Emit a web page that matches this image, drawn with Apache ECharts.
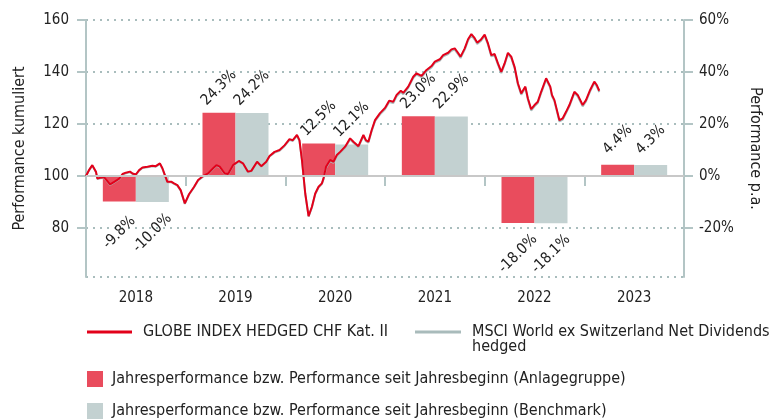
<!DOCTYPE html>
<html>
<head>
<meta charset="utf-8">
<script src="https://cdn.jsdelivr.net/npm/echarts@6/dist/echarts.min.js"></script>
<style>
  html, body { margin: 0; padding: 0; background: #fff; }
  #chart { width: 778px; height: 419px; }
</style>
</head>
<body>
<div id="chart"></div>
<script>
// Jahre (Kategorien der Balken)
const years = ['2018', '2019', '2020', '2021', '2022', '2023']

// Jahresperformance in %
const fundPerf = [-9.8, 24.3, 12.5, 23.0, -18.0, 4.4]
const benchPerf = [-10.0, 24.2, 12.1, 22.9, -18.1, 4.3]

// Performance kumuliert: Monate seit Jan 2018
const months = [
  0, 0.4, 0.76, 1.2, 1.36, 1.77, 2.2, 2.9, 3.4, 4.0,
  4.4, 4.8, 5.3, 5.6, 6.0, 6.4, 6.8, 7.4, 8.0, 8.4,
  8.9, 9.2, 9.5, 9.8, 10.3, 10.6, 11.0, 11.4, 11.9, 12.4,
  13.0, 13.5, 14.1, 14.7, 15.3, 15.7, 16.1, 16.7, 17.1, 17.7,
  18.4, 18.9, 19.5, 19.9, 20.6, 21.1, 21.7, 22.1, 22.7, 23.3,
  23.9, 24.5, 24.9, 25.4, 25.7, 26.0, 26.4, 26.8, 27.2, 27.6,
  28.0, 28.4, 28.6, 28.9, 29.4, 29.8, 30.2, 30.6, 31.2, 31.8,
  32.2, 32.8, 33.0, 33.4, 33.7, 34.0, 34.4, 34.8, 35.4, 36.0,
  36.5, 37.0, 37.4, 37.9, 38.2, 38.8, 39.4, 39.8, 40.4, 41.0,
  41.6, 42.0, 42.6, 43.0, 43.6, 44.0, 44.4, 44.7, 45.1, 45.6,
  46.0, 46.4, 46.8, 47.1, 47.5, 48.0, 48.4, 48.8, 49.2, 49.6,
  50.0, 50.4, 50.8, 51.2, 51.6, 52.0, 52.4, 52.9, 53.2, 53.6,
  54.0, 54.4, 54.8, 55.4, 55.9, 56.1, 56.4, 57.0, 57.4, 57.8,
  58.2, 58.8, 59.2, 59.8, 60.2, 60.7, 61.2, 61.5, 61.8
]

const globeIndex = [
  100.0, 102.5, 104.2, 101.7, 99.1, 99.4, 99.5, 96.8, 97.8, 99.0,
  100.8, 101.3, 101.7, 101.0, 100.6, 102.3, 103.3, 103.6, 104.0, 103.8,
  104.9, 103.0, 100.4, 97.8, 97.8, 97.2, 96.5, 94.6, 89.5, 93.0,
  95.8, 98.5, 100.0, 101.0, 103.0, 104.2, 103.6, 101.0, 100.8, 104.2,
  105.8, 104.9, 101.7, 102.0, 105.5, 103.8, 105.5, 107.7, 109.3, 110.0,
  111.8, 114.2, 113.8, 115.8, 113.8, 106.2, 93.3, 84.6, 88.2, 93.3,
  95.9, 97.2, 99.1, 103.6, 106.2, 105.5, 108.1, 109.3, 111.3, 114.5,
  113.2, 111.5, 111.9, 115.8, 113.8, 113.2, 117.7, 121.5, 124.2, 126.2,
  129.0, 128.6, 131.2, 132.8, 132.0, 134.4, 138.2, 139.5, 138.5, 140.8,
  142.3, 144.0, 144.9, 146.5, 147.4, 148.7, 149.1, 147.8, 145.9, 149.1,
  152.6, 154.6, 153.0, 151.3, 152.3, 154.4, 151.0, 146.5, 146.9, 143.3,
  140.1, 143.3, 147.4, 145.9, 142.0, 135.7, 131.8, 134.4, 129.9, 125.7,
  127.3, 128.6, 132.4, 137.6, 134.4, 131.2, 129.2, 121.5, 122.2, 124.7,
  127.3, 132.4, 131.2, 127.3, 129.2, 133.1, 136.3, 135.0, 132.8
]

const msciIndex = [
  100.0, 102.3, 104.0, 101.5, 98.9, 99.2, 99.3, 96.6, 97.6, 98.8,
  100.6, 101.1, 101.5, 100.8, 100.4, 102.1, 103.1, 103.4, 103.8, 103.6,
  104.7, 102.8, 100.2, 97.6, 97.6, 97.0, 96.3, 94.4, 89.3, 92.8,
  95.6, 98.3, 99.8, 100.8, 102.8, 104.0, 103.4, 100.8, 100.6, 104.0,
  105.6, 104.7, 101.5, 101.8, 105.3, 103.6, 105.3, 107.5, 109.0, 109.7,
  111.5, 113.9, 113.5, 115.5, 113.5, 105.9, 93.0, 84.4, 87.9, 93.0,
  95.6, 96.9, 98.8, 103.2, 105.8, 105.1, 107.7, 108.9, 110.9, 114.1,
  112.8, 111.1, 111.5, 115.4, 113.4, 112.8, 117.3, 121.1, 123.7, 125.7,
  128.5, 128.1, 130.7, 132.3, 131.5, 133.9, 137.7, 139.0, 138.0, 140.3,
  141.8, 143.5, 144.4, 146.0, 146.9, 148.2, 148.6, 147.3, 145.4, 148.6,
  152.1, 154.1, 152.5, 150.8, 151.8, 153.9, 150.5, 146.0, 146.4, 142.8,
  139.6, 142.8, 146.9, 145.4, 141.5, 135.2, 131.3, 133.9, 129.4, 125.2,
  126.8, 128.1, 131.9, 137.1, 133.9, 130.7, 128.7, 121.0, 121.7, 124.2,
  126.8, 131.9, 130.7, 126.8, 128.7, 132.6, 135.8, 134.5, 132.3
]

const FONT = 'DejaVu Sans Condensed'
const AXIS = '#b3c5c5'
const TXT = '#222'

const NAME_GLOBE = 'GLOBE INDEX HEDGED CHF Kat. II'
const NAME_MSCI = 'MSCI World ex Switzerland Net Dividends hedged'
const NAME_FUND = 'Jahresperformance bzw. Performance seit Jahresbeginn (Anlagegruppe)'
const NAME_BENCH = 'Jahresperformance bzw. Performance seit Jahresbeginn (Benchmark)'

function barData(values) {
  return values.map(function (v) {
    return {
      value: v,
      label: { position: v < 0 ? 'bottom' : 'top', distance: v < 0 ? 31 : 25 }
    }
  })
}

const barLabel = {
  show: true,
  rotate: 45,
  align: 'center',
  verticalAlign: 'middle',
  fontFamily: FONT,
  fontSize: 15,
  color: TXT,
  formatter: function (p) {
    return p.value.toFixed(1) + '%'
  }
}

function legendBase(name, top, left, w, h, fmt) {
  return {
    data: [{ name: name, icon: 'rect' }],
    left: left,
    top: top,
    padding: 0,
    itemWidth: w,
    itemHeight: h,
    selectedMode: false,
    formatter: fmt,
    textStyle: {
      fontFamily: FONT,
      fontSize: 16,
      lineHeight: 15,
      color: TXT,
      padding: [0, 0, 0, h > 10 ? 4 : 6]
    }
  }
}

const chart = echarts.init(document.getElementById('chart'))

chart.setOption({
  animation: false,
  textStyle: { fontFamily: FONT },
  grid: { left: 86, right: 94, top: 20, bottom: 142, containLabel: false },
  legend: [
    legendBase(NAME_GLOBE, 324, 87, 45, 3),
    legendBase(NAME_MSCI, 309, 415, 46, 3, function () {
      return '\nMSCI World ex Switzerland Net Dividends\nhedged'
    }),
    legendBase(NAME_FUND, 371, 87, 16, 16),
    legendBase(NAME_BENCH, 403, 87, 16, 16)
  ],
  xAxis: [
    {
      type: 'category',
      data: years,
      boundaryGap: true,
      axisLine: { lineStyle: { color: AXIS, width: 2 } },
      axisTick: { show: true, length: 10, lineStyle: { color: AXIS, width: 2 } },
      axisLabel: { color: TXT, fontFamily: FONT, fontSize: 15, margin: 14 },
      splitLine: { show: false }
    },
    {
      type: 'value',
      min: 0,
      max: 72,
      show: false
    }
  ],
  yAxis: [
    {
      type: 'value',
      position: 'left',
      min: 61.2,
      max: 160,
      splitNumber: 5,
      name: 'Performance kumuliert',
      nameLocation: 'middle',
      nameGap: 58,
      nameTextStyle: { color: TXT, fontFamily: FONT, fontSize: 16 },
      axisLine: { show: true, lineStyle: { color: AXIS, width: 2 } },
      axisTick: { show: true, length: 9, lineStyle: { color: AXIS, width: 2 } },
      axisLabel: { color: TXT, fontFamily: FONT, fontSize: 15, margin: 17, showMinLabel: false },
      splitLine: { show: true, lineStyle: { color: '#a9bdbd', type: [2, 5], width: 2 } }
    },
    {
      type: 'value',
      position: 'right',
      min: -38.8,
      max: 60,
      splitNumber: 5,
      name: 'Performance p.a.',
      nameLocation: 'middle',
      nameGap: 63,
      nameRotate: -90,
      nameTextStyle: { color: TXT, fontFamily: FONT, fontSize: 16 },
      axisLine: { show: true, lineStyle: { color: AXIS, width: 2 } },
      axisTick: { show: true, length: 9, lineStyle: { color: AXIS, width: 2 } },
      axisLabel: {
        color: TXT, fontFamily: FONT, fontSize: 15, margin: 15, showMinLabel: false,
        formatter: '{value}%'
      },
      splitLine: { show: false }
    }
  ],
  series: [
    {
      name: NAME_FUND,
      type: 'bar',
      xAxisIndex: 0,
      yAxisIndex: 1,
      barWidth: 33,
      barGap: '0%',
      itemStyle: { color: '#e94c5d' },
      label: barLabel,
      data: barData(fundPerf),
      markLine: {
        silent: true,
        symbol: 'none',
        label: { show: false },
        lineStyle: { color: '#c8c8c8', type: 'solid', width: 2 },
        data: [{ yAxis: 0 }]
      }
    },
    {
      name: NAME_BENCH,
      type: 'bar',
      xAxisIndex: 0,
      yAxisIndex: 1,
      barWidth: 33,
      barGap: '0%',
      itemStyle: { color: '#c3d1d1' },
      label: barLabel,
      data: barData(benchPerf)
    },
    {
      name: NAME_MSCI,
      type: 'line',
      xAxisIndex: 1,
      yAxisIndex: 0,
      showSymbol: false,
      symbol: 'none',
      itemStyle: { color: '#a9bbbb' },
      lineStyle: { color: '#a9bbbb', width: 2 },
      z: 3,
      data: months.map(function (m, i) { return [m, msciIndex[i]] })
    },
    {
      name: NAME_GLOBE,
      type: 'line',
      xAxisIndex: 1,
      yAxisIndex: 0,
      showSymbol: false,
      symbol: 'none',
      itemStyle: { color: '#e2001a' },
      lineStyle: { color: '#e2001a', width: 2 },
      z: 4,
      data: months.map(function (m, i) { return [m, globeIndex[i]] })
    }
  ]
})
</script>
</body>
</html>
